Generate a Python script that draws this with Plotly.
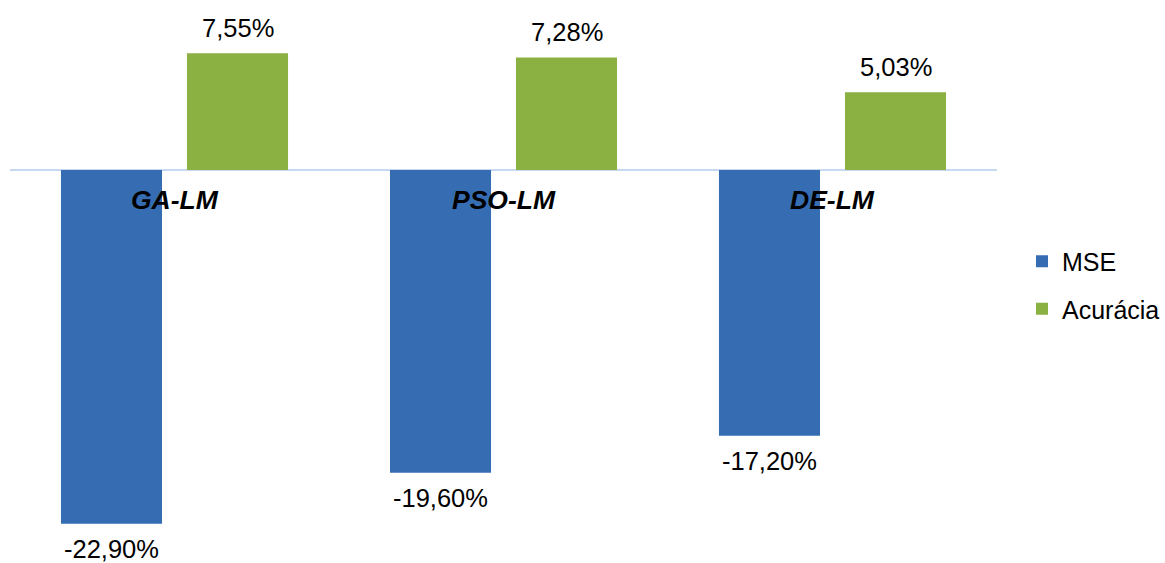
import plotly.graph_objects as go

categories = ["GA-LM", "PSO-LM", "DE-LM"]
mse = [-22.90, -19.60, -17.20]
acuracia = [7.55, 7.28, 5.03]

FONT = "Liberation Sans, Arial, sans-serif"
BLUE = "#366CB2"
GREEN = "#8BB143"
BAR_OFFSET_PX = 63  # half the slot width of one bar inside its group


def pct(v):
    return f"{v:.2f}%".replace(".", ",")


fig = go.Figure()
fig.add_trace(go.Bar(
    name="MSE", x=categories, y=mse, legendgroup="mse",
    marker=dict(color=BLUE, line=dict(width=0)),
))
fig.add_trace(go.Bar(
    name="Acurácia", x=categories, y=acuracia, legendgroup="acc",
    marker=dict(color=GREEN, line=dict(width=0)),
))

# value labels beyond the end of each bar
for values, shift in ((mse, -BAR_OFFSET_PX), (acuracia, BAR_OFFSET_PX)):
    for c, v in zip(categories, values):
        fig.add_annotation(
            x=c, y=v, xref="x", yref="y", text=pct(v), showarrow=False,
            xshift=shift,
            yanchor="bottom" if v >= 0 else "top",
            yshift=10 if v >= 0 else -10,
            borderpad=0,
            font=dict(family=FONT, size=25.5, color="#000000"),
        )

# category names just under the zero line
for c in categories:
    fig.add_annotation(
        x=c, y=0, xref="x", yref="y", text=f"<b><i>{c}</i></b>",
        showarrow=False, yanchor="top", yshift=-13,
        font=dict(family=FONT, size=26.5, color="#000000"),
    )

fig.update_layout(
    width=1165, height=563,
    margin=dict(l=10, r=168, t=0, b=0, autoexpand=False),
    paper_bgcolor="white", plot_bgcolor="white",
    barmode="group", bargap=0.234, bargroupgap=0.198,
    showlegend=True,
    legend=dict(
        xref="container", yref="container",
        x=1022 / 1165, y=1 - 285 / 563, yanchor="middle", xanchor="left",
        traceorder="grouped", tracegroupgap=12,
        font=dict(family=FONT, size=25, color="#000000"),
        bgcolor="rgba(0,0,0,0)",
    ),
    xaxis=dict(showticklabels=False, showgrid=False, showline=False, ticks=""),
    yaxis=dict(
        range=[-25.44, 11.0], showticklabels=False, showgrid=False,
        zeroline=True, zerolinecolor="#C6D9F0", zerolinewidth=2,
        showline=False, ticks="",
    ),
)

fig.write_html("out.html")
